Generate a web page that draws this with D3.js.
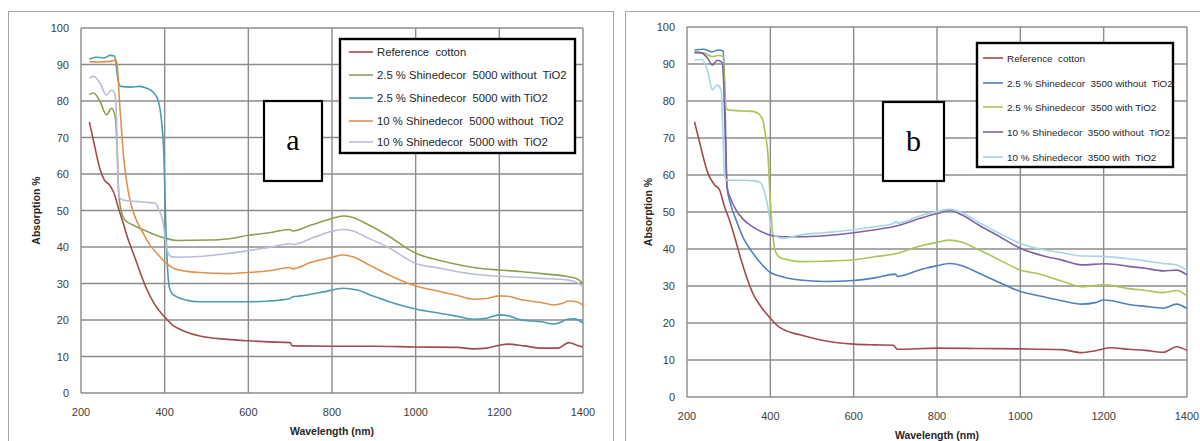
<!DOCTYPE html>
<html>
<head>
<meta charset="utf-8">
<script src="https://cdn.jsdelivr.net/npm/d3@7"></script>
<style>
  body { margin: 0; background: #fff; }
  svg { display: block; }
</style>
</head>
<body>
<div id="chart"></div>
<script>
// wavelength (nm), absorption (%)
var aRef   = [[220,74.3],[232,68],[245,61.5],[255,58.5],[268,57],[278,55],[290,50.5],[301,46.5],[313,42],[325,38.3],[340,33.5],[357,28.5],[375,24.5],[400,20.8],[420,18.5],[450,16.8],[484,15.6],[550,14.7],[600,14.3],[650,14],[700,13.8],[705,12.9],[800,12.8],[900,12.8],[1000,12.6],[1100,12.5],[1137,12.1],[1170,12.3],[1200,13.1],[1220,13.4],[1260,12.9],[1300,12.3],[1340,12.3],[1366,13.8],[1385,13.1],[1400,12.6]];
var aG25no = [[220,81.8],[230,82.2],[245,80],[261,76.2],[273,78],[282,75.5],[286,68],[290,55],[295,50.5],[305,47.4],[330,45.7],[357,44.3],[380,43.2],[405,42.3],[430,41.8],[500,41.9],[550,42.2],[600,43.2],[650,43.9],[700,44.8],[705,44.4],[750,46],[800,47.8],[826,48.5],[850,48.1],[880,46.5],[931,43.3],[1000,38.3],[1058,36.3],[1100,35.2],[1150,34.2],[1200,33.7],[1250,33.3],[1300,32.7],[1362,31.9],[1385,31.3],[1400,30]];
var aT25w  = [[220,91.5],[235,92],[255,91.8],[270,92.5],[280,92.3],[284,90],[288,86],[295,84],[320,83.8],[340,84],[357,83.5],[372,82.5],[384,80.3],[393,74],[398,65.7],[403,45],[407,34],[411,29],[418,27.2],[428,26.4],[450,25.5],[484,25],[600,25],[650,25.2],[700,25.9],[705,26.3],[724,26.6],[780,27.7],[827,28.7],[860,28.2],[900,26.5],[950,24.5],[1000,23],[1060,21.8],[1100,21],[1137,20.2],[1170,20.5],[1200,21.4],[1220,21.2],[1250,20.1],[1300,19.5],[1330,18.9],[1350,19.5],[1362,20.2],[1380,20.3],[1400,19.1]];
var aO10no = [[220,90.8],[240,90.7],[260,90.8],[275,91],[284,91.2],[288,88],[292,80],[297,72],[301,65.7],[309,58],[317,52.9],[330,48],[349,43.7],[365,40.5],[381,38.3],[400,36],[421,34.2],[450,33.4],[484,33],[550,32.7],[600,33],[650,33.5],[700,34.4],[705,34],[750,35.8],[800,37.2],[826,37.8],[850,37.3],[890,35],[931,32.6],[1000,29.3],[1058,27.8],[1100,26.7],[1137,25.7],[1170,25.9],[1200,26.6],[1220,26.5],[1250,25.6],[1300,24.8],[1330,24.1],[1350,24.5],[1366,25.2],[1385,25],[1400,24]];
var aL10w  = [[220,86.3],[230,86.8],[245,85],[261,81.6],[273,83],[281,82],[285,75],[288,60],[292,53.5],[300,52.9],[330,52.5],[360,52.2],[378,52],[387,50],[395,47.4],[402,42],[408,38.3],[418,37.3],[428,37.2],[484,37.4],[550,38.2],[600,39],[650,39.9],[700,40.9],[705,40.7],[760,42.8],[800,44.3],[826,44.8],[850,44.4],[880,42.8],[931,40.1],[1000,35.5],[1058,34.2],[1100,33.2],[1150,32.4],[1200,32],[1250,31.7],[1300,31.4],[1362,31],[1385,30.3],[1400,29.1]];

var bRef   = [[218,74.4],[232,68],[250,60.5],[265,57.5],[278,56],[290,51.5],[302,47.8],[315,43],[330,37],[358,28],[380,24],[400,21.3],[420,19],[440,17.8],[471,16.8],[530,15.2],[600,14.3],[650,14.1],[695,14],[705,12.9],[800,13.2],[900,13.1],[1000,13],[1100,12.8],[1147,12],[1180,12.5],[1215,13.3],[1260,12.9],[1300,12.6],[1343,12.1],[1375,13.6],[1400,12.6]];
var bB25no = [[218,93.8],[240,94],[260,93.3],[275,93.8],[287,93.5],[290,85],[293,70],[296,56.8],[305,52],[318,47.8],[335,43],[358,38.9],[380,35.8],[398,33.8],[420,32.8],[471,31.6],[530,31.2],[600,31.5],[650,32.2],[700,33.2],[705,32.6],[760,34.4],[800,35.5],[831,36.1],[860,35.5],[900,33.5],[951,30.9],[1000,28.5],[1047,27.3],[1100,26],[1147,25.1],[1180,25.5],[1200,26.2],[1220,26],[1260,25],[1300,24.5],[1343,24],[1375,25.1],[1400,23.9]];
var bY25w  = [[218,92.9],[240,93],[260,92],[275,92.3],[287,92],[290,85],[294,78],[300,77.6],[330,77.3],[358,77.2],[372,76.5],[382,74.9],[388,71],[394,65.9],[399,55],[404,46],[409,41],[414,38.8],[425,37.6],[438,37.2],[471,36.6],[530,36.7],[600,37.1],[650,37.9],[703,38.8],[760,40.8],[800,41.8],[831,42.4],[860,41.8],[900,39.8],[951,37],[1000,34.3],[1047,33.2],[1100,31.3],[1147,29.8],[1200,30.3],[1230,29.9],[1260,29.3],[1300,28.8],[1343,28.2],[1375,28.8],[1400,27.3]];
var bP10no = [[218,93.2],[235,93],[250,91.5],[261,89.7],[272,91],[284,90.5],[288,85],[292,70],[296,56.8],[305,53.5],[318,50.5],[335,48],[358,46],[380,44.6],[398,43.8],[430,43.3],[471,43.3],[530,43.6],[601,44.4],[650,45.2],[695,46],[703,46.2],[760,48.3],[800,49.6],[831,50.4],[860,49.2],[900,46.5],[951,43.3],[1000,40.2],[1047,38.4],[1100,37],[1147,35.7],[1200,36],[1230,35.8],[1260,35.3],[1300,34.8],[1343,34.1],[1375,34.3],[1400,33]];
var bL10w  = [[218,91.1],[235,91.2],[250,88],[261,83],[272,84.3],[282,83],[286,72],[290,60],[295,58.6],[330,58.6],[362,58.4],[375,58],[382,56.8],[388,54.5],[394,51.4],[400,47],[405,44.3],[415,43.4],[430,42.9],[471,43.8],[530,44.4],[600,45.2],[650,46],[695,46.9],[703,47.4],[705,47],[760,49],[800,50.1],[831,50.7],[860,49.8],[900,47.2],[951,44.2],[1000,41.5],[1047,40],[1100,39],[1147,38.1],[1200,38],[1250,37.5],[1300,36.8],[1343,36.1],[1375,35.7],[1400,34.3]];

var xTicks = [200, 400, 600, 800, 1000, 1200, 1400];
var yTicks = [0, 10, 20, 30, 40, 50, 60, 70, 80, 90, 100];

var aNames = ["Reference  cotton", "2.5 % Shinedecor  5000 without  TiO2", "2.5 % Shinedecor  5000 with TiO2", "10 % Shinedecor  5000 without  TiO2", "10 % Shinedecor  5000 with  TiO2"];
var bNames = ["Reference  cotton", "2.5 % Shinedecor  3500 without  TiO2", "2.5 % Shinedecor  3500 with TiO2", "10 % Shinedecor  3500 without  TiO2", "10 % Shinedecor  3500 with  TiO2"];
var aColors = ["#a24b4e", "#8ea050", "#4c9bb0", "#e0924e", "#b8bddc"];
var bColors = ["#a24b4e", "#5080be", "#a9c553", "#7f63a4", "#a8d4e6"];

var svg = d3.select("#chart").append("svg").attr("width", 1200).attr("height", 441);

function drawPanel(p) {
  var g = svg.append("g");

  // outer frame
  g.append("rect").attr("x", p.frame[0]).attr("y", p.frame[1])
    .attr("width", p.frame[2]).attr("height", 500)
    .attr("fill", "none").attr("stroke", "#a6a6a6").attr("stroke-width", 1);

  var x = d3.scaleLinear().domain([200, 1400]).range([p.left, p.right]);
  var y = d3.scaleLinear().domain([0, 100]).range([p.bottom, p.top]);

  // grid
  g.selectAll(".hg").data(yTicks).join("line")
    .attr("x1", p.left).attr("x2", p.right)
    .attr("y1", d => y(d)).attr("y2", d => y(d))
    .attr("stroke", "#8c8c8c").attr("stroke-width", 1.4);
  g.selectAll(".vg").data(xTicks).join("line")
    .attr("y1", p.top).attr("y2", p.bottom)
    .attr("x1", d => x(d)).attr("x2", d => x(d))
    .attr("stroke", "#8c8c8c").attr("stroke-width", 1.4);

  // tick labels
  g.selectAll(".yl").data(yTicks).join("text")
    .attr("x", p.left - 12).attr("y", d => y(d) + 4)
    .attr("text-anchor", "end").attr("font-family", "Liberation Sans, Arial, sans-serif")
    .attr("font-size", 11).attr("fill", "#404040").text(d => d);
  g.selectAll(".xl").data(xTicks).join("text")
    .attr("x", d => x(d)).attr("y", p.bottom + 23)
    .attr("text-anchor", "middle").attr("font-family", "Liberation Sans, Arial, sans-serif")
    .attr("font-size", 11).attr("fill", "#404040").text(d => d);

  // axis titles
  g.append("text").attr("x", (p.left + p.right) / 2).attr("y", p.bottom + 42)
    .attr("text-anchor", "middle").attr("font-family", "Liberation Sans, Arial, sans-serif")
    .attr("font-size", 10.5).attr("font-weight", "bold").attr("fill", "#262626")
    .text("Wavelength (nm)");
  g.append("text")
    .attr("transform", "translate(" + p.ytitleX + "," + (p.top + p.bottom) / 2 + ") rotate(-90)")
    .attr("text-anchor", "middle").attr("font-family", "Liberation Sans, Arial, sans-serif")
    .attr("font-size", 10.5).attr("font-weight", "bold").attr("fill", "#262626")
    .text("Absorption %");

  // curves
  var line = d3.line().x(d => x(d[0])).y(d => y(d[1])).curve(d3.curveMonotoneX);
  p.series.forEach(function(s, i) {
    g.append("path").datum(s).attr("d", line)
      .attr("fill", "none").attr("stroke", p.colors[i]).attr("stroke-width", 1.6);
  });

  // label box (a / b)
  var lb = p.labelBox;
  g.append("rect").attr("x", lb[0]).attr("y", lb[1]).attr("width", lb[2]).attr("height", lb[3])
    .attr("fill", "#fff").attr("stroke", "#000").attr("stroke-width", 2.2);
  g.append("text").attr("x", lb[0] + lb[2] / 2).attr("y", lb[1] + lb[3] / 2 + 9)
    .attr("text-anchor", "middle").attr("font-family", "Liberation Serif, Times New Roman, serif")
    .attr("font-size", 30).attr("fill", "#000").text(p.label);

  // legend
  var lg = p.legend;
  g.append("rect").attr("x", lg.x).attr("y", lg.y).attr("width", lg.w).attr("height", lg.h)
    .attr("fill", "#fff").attr("stroke", "#000").attr("stroke-width", 2.4);
  p.names.forEach(function(n, i) {
    var yy = lg.rows[i];
    g.append("line").attr("x1", lg.lx).attr("x2", lg.lx + lg.ll).attr("y1", yy).attr("y2", yy)
      .attr("stroke", p.colors[i]).attr("stroke-width", 1.6);
    g.append("text").attr("x", lg.lx + lg.ll + 4).attr("y", yy + lg.fs * 0.36)
      .attr("font-family", "Liberation Sans, Arial, sans-serif").attr("font-size", lg.fs)
      .attr("fill", "#262626").attr("xml:space", "preserve").style("white-space", "pre").text(n);
  });
}

drawPanel({
  frame: [8.5, 11.5, 605],
  left: 81, right: 583, top: 28, bottom: 393, ytitleX: 40,
  series: [aRef, aG25no, aT25w, aO10no, aL10w], colors: aColors, names: aNames,
  label: "a", labelBox: [264, 101, 58, 80],
  legend: { x: 340, y: 39, w: 235, h: 114, lx: 349, ll: 24, fs: 11.3, rows: [52, 75, 98, 121, 142] }
});

drawPanel({
  frame: [625.5, 11.5, 620],
  left: 687, right: 1187, top: 27, bottom: 397, ytitleX: 652,
  series: [bRef, bB25no, bY25w, bP10no, bL10w], colors: bColors, names: bNames,
  label: "b", labelBox: [883, 102, 61, 79],
  legend: { x: 977, y: 43, w: 196, h: 124, lx: 983, ll: 20, fs: 9.9, rows: [58, 83, 107, 132, 157] }
});
</script>
</body>
</html>
